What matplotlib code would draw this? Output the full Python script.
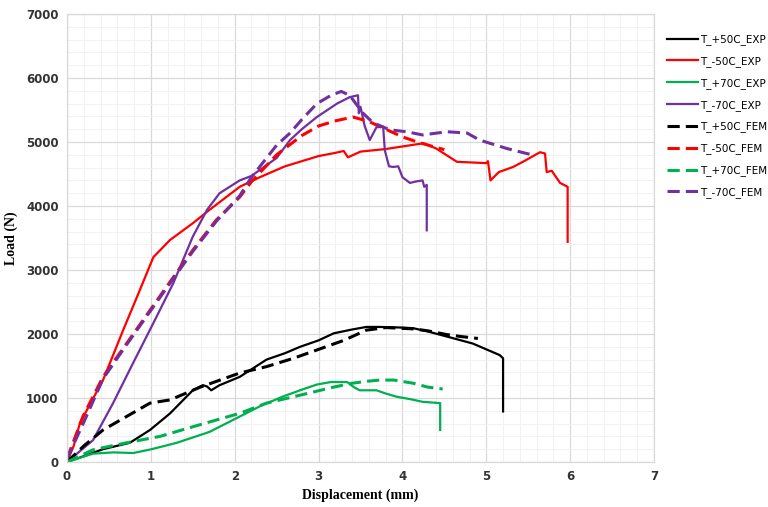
import numpy as np
import matplotlib.pyplot as plt
from matplotlib.ticker import MultipleLocator

# T_+50C
x_p50_exp = [0, 0.2, 0.43, 0.75, 0.99, 1.23, 1.5, 1.62, 1.67, 1.72, 1.82, 2.06, 2.38, 2.6, 2.78, 3.0, 3.18, 3.4, 3.57, 3.73, 4.0, 4.13, 4.3, 4.53, 4.7, 4.84, 5.0, 5.16, 5.2, 5.2]
y_p50_exp = [0, 90, 200, 300, 500, 760, 1120, 1200, 1180, 1120, 1200, 1330, 1600, 1700, 1800, 1900, 2010, 2070, 2110, 2110, 2100, 2090, 2040, 1960, 1900, 1850, 1760, 1670, 1620, 790]
x_p50_fem = [0, 0.2, 0.43, 0.71, 0.99, 1.23, 1.59, 2.06, 2.38, 2.7, 2.98, 3.3, 3.57, 3.8, 4.13, 4.3, 4.53, 4.7, 4.9]
y_p50_fem = [0, 250, 500, 710, 920, 970, 1170, 1390, 1490, 1620, 1750, 1900, 2060, 2100, 2080, 2050, 1990, 1960, 1930]

# T_-50C
x_m50_exp = [0, 0.08, 0.155, 0.43, 0.67, 0.87, 1.03, 1.23, 1.5, 1.7, 2.06, 2.3, 2.6, 3.0, 3.2, 3.3, 3.35, 3.5, 3.8, 4.0, 4.25, 4.4, 4.65, 5.0, 5.02, 5.05, 5.15, 5.32, 5.45, 5.64, 5.7, 5.72, 5.78, 5.88, 5.97, 5.97]
y_m50_exp = [0, 250, 610, 1280, 2060, 2690, 3200, 3470, 3730, 3940, 4300, 4450, 4620, 4780, 4830, 4860, 4760, 4850, 4890, 4930, 4980, 4900, 4690, 4670, 4700, 4400, 4530, 4610, 4700, 4840, 4820, 4530, 4550, 4360, 4300, 3440]
x_m50_fem = [0, 0.19, 0.43, 0.71, 0.99, 1.27, 1.5, 1.78, 2.06, 2.2, 2.5, 2.8, 3.0, 3.2, 3.41, 3.6, 3.8, 4.0, 4.2, 4.5]
y_m50_fem = [50, 710, 1330, 1850, 2370, 2890, 3310, 3780, 4140, 4380, 4800, 5100, 5250, 5330, 5390, 5320, 5200, 5080, 4990, 4880]

# T_+70C
x_p70_exp = [0, 0.31, 0.55, 0.79, 1.01, 1.31, 1.7, 2.06, 2.3, 2.57, 2.8, 2.98, 3.15, 3.34, 3.42, 3.49, 3.69, 3.8, 3.93, 4.1, 4.24, 4.45, 4.45]
y_p70_exp = [0, 130, 150, 140, 200, 300, 470, 710, 870, 1020, 1130, 1210, 1250, 1250, 1170, 1120, 1120, 1070, 1020, 980, 940, 920, 500]
x_p70_fem = [0, 0.31, 0.71, 1.11, 1.5, 2.06, 2.38, 2.8, 3.18, 3.4, 3.57, 3.73, 3.9, 4.13, 4.3, 4.48]
y_p70_fem = [0, 190, 300, 400, 550, 760, 920, 1050, 1170, 1230, 1260, 1280, 1280, 1230, 1170, 1140]

# T_-70C
x_m70_exp = [0, 0.31, 0.55, 0.79, 1.03, 1.27, 1.5, 1.67, 1.82, 2.06, 2.2, 2.5, 2.66, 2.8, 2.98, 3.22, 3.37, 3.47, 3.48, 3.5, 3.55, 3.61, 3.69, 3.77, 3.79, 3.84, 3.89, 3.95, 4.0, 4.09, 4.15, 4.24, 4.26, 4.29, 4.29]
y_m70_exp = [0, 340, 920, 1550, 2170, 2800, 3520, 3940, 4200, 4400, 4470, 4750, 5030, 5200, 5390, 5600, 5700, 5730, 5450, 5550, 5250, 5030, 5230, 5240, 4870, 4620, 4610, 4620, 4450, 4360, 4380, 4400, 4300, 4330, 3620]
x_m70_fem = [0, 0.2, 0.43, 0.71, 0.99, 1.27, 1.5, 1.78, 2.06, 2.2, 2.5, 2.66, 2.8, 2.98, 3.15, 3.27, 3.37, 3.53, 3.65, 3.85, 4.05, 4.24, 4.53, 4.77, 4.92, 5.24, 5.48, 5.55]
y_m70_fem = [50, 620, 1300, 1830, 2350, 2870, 3290, 3760, 4160, 4450, 4950, 5140, 5350, 5600, 5730, 5790, 5730, 5450, 5300, 5190, 5160, 5110, 5160, 5140, 5030, 4900, 4820, 4800]

labels = ['T_+50C_EXP', 'T_-50C_EXP', 'T_+70C_EXP', 'T_-70C_EXP',
          'T_+50C_FEM', 'T_-50C_FEM', 'T_+70C_FEM', 'T_-70C_FEM']

black = '#000000'
red = '#ff0000'
green = '#00b050'
purple = '#7030a0'

fig = plt.figure(figsize=(7.68, 5.07), dpi=100)
ax = fig.add_axes([0.0872, 0.0888, 0.7644, 0.8836])

exp_lw = 1.6
fem_lw = 2.2
dash = (4, 2)

ax.plot(x_p50_exp, y_p50_exp, color=black, lw=exp_lw, label=labels[0])
ax.plot(x_m50_exp, y_m50_exp, color=red, lw=exp_lw, label=labels[1])
ax.plot(x_p70_exp, y_p70_exp, color=green, lw=exp_lw, label=labels[2])
ax.plot(x_m70_exp, y_m70_exp, color=purple, lw=exp_lw, label=labels[3])
ax.plot(x_p50_fem, y_p50_fem, color=black, lw=fem_lw, ls=(0, dash), label=labels[4])
ax.plot(x_m50_fem, y_m50_fem, color=red, lw=fem_lw, ls=(0, dash), label=labels[5])
ax.plot(x_p70_fem, y_p70_fem, color=green, lw=fem_lw, ls=(0, dash), label=labels[6])
ax.plot(x_m70_fem, y_m70_fem, color=purple, lw=fem_lw, ls=(0, dash), label=labels[7])

ax.set_xlim(0, 7)
ax.set_ylim(0, 7000)
ax.xaxis.set_major_locator(MultipleLocator(1))
ax.xaxis.set_minor_locator(MultipleLocator(0.2))
ax.yaxis.set_major_locator(MultipleLocator(1000))
ax.yaxis.set_minor_locator(MultipleLocator(200))
ax.grid(which='major', color='#d9d9d9', lw=0.9)
ax.grid(which='minor', color='#efefef', lw=0.6)
ax.set_axisbelow(True)
ax.tick_params(which='both', length=0, labelsize=8.5, pad=6)
for t in ax.get_xticklabels() + ax.get_yticklabels():
    t.set_fontweight('bold')
    t.set_color('#333333')
for s in ax.spines.values():
    s.set_color('#d9d9d9')
    s.set_linewidth(0.9)

ax.set_xlabel('Displacement (mm)', family='Liberation Serif', fontweight='bold', fontsize=10, labelpad=4)
ax.set_ylabel('Load (N)', family='Liberation Serif', fontweight='bold', fontsize=10, labelpad=6)

leg = ax.legend(loc='upper left', bbox_to_anchor=(663 / 768, 1 - 30 / 507),
                bbox_transform=fig.transFigure, frameon=False,
                fontsize=7.5, handlelength=3.0, handletextpad=0.2,
                labelspacing=1.05, borderaxespad=0)
for t in leg.get_texts():
    t.set_family('Liberation Sans Narrow')

fig.savefig('out.png', dpi=100)
